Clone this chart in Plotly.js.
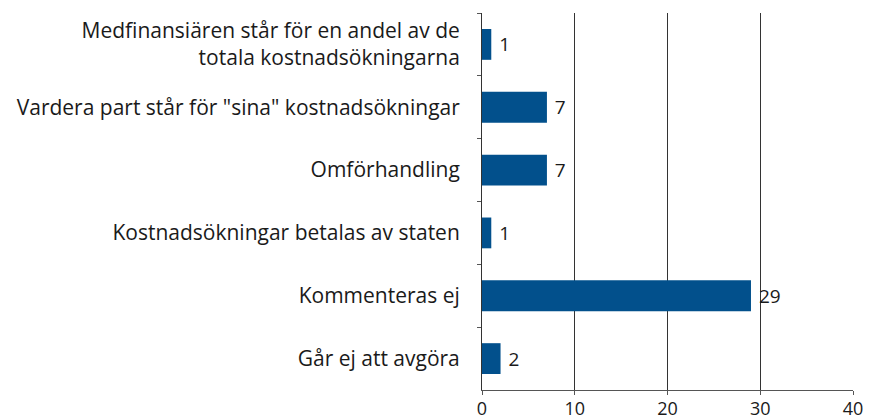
<!DOCTYPE html>
<html>
<head>
<meta charset="utf-8">
<script src="https://cdn.plot.ly/plotly-3.0.1.min.js"></script>
<style>html,body{margin:0;padding:0;background:#fff;}#chart{width:869px;height:420px;}</style>
</head>
<body>
<div id="chart"></div>
<script>
const categories = [
  "Medfinansiären står för en andel av de<br>totala kostnadsökningarna",
  "Vardera part står för \"sina\" kostnadsökningar",
  "Omförhandling",
  "Kostnadsökningar betalas av staten",
  "Kommenteras ej",
  "Går ej att avgöra"
];
const values = [1, 7, 7, 1, 29, 2];
const xTicks = [0, 10, 20, 30, 40];

const font = "'Open Sans', sans-serif";
Plotly.newPlot("chart", [{
  type: "bar",
  orientation: "h",
  y: categories,
  x: values,
  marker: {color: "#02508c"},
  text: values.map(v => String(v)),
  texttemplate: " %{text}",
  textposition: "outside",
  cliponaxis: false,
  textfont: {family: font, size: 19, color: "#1a1a1a"},
  hoverinfo: "none"
}], {
  width: 869, height: 420,
  margin: {l: 482, r: 16, t: 13, b: 30, pad: 0},
  paper_bgcolor: "#fff", plot_bgcolor: "#fff",
  bargap: 0.51,
  showlegend: false,
  font: {family: font, size: 21, color: "#1a1a1a"},
  xaxis: {
    range: [0, 40],
    tickvals: xTicks,
    ticktext: xTicks.map(String),
    showgrid: true, gridcolor: "#333", gridwidth: 1,
    zeroline: false,
    showline: true, linecolor: "#555", linewidth: 1,
    ticks: "outside", ticklen: 4, tickcolor: "#555",
    ticklabelstandoff: -2,
    tickfont: {family: font, size: 18, color: "#1a1a1a"},
    fixedrange: true
  },
  yaxis: {
    autorange: "reversed",
    type: "category",
    showgrid: false, zeroline: false,
    showline: true, linecolor: "#333", linewidth: 1,
    ticks: "outside", ticklen: 4, tickcolor: "#555",
    tickson: "boundaries",
    ticklabelstandoff: 17,
    tickfont: {family: font, size: 21, color: "#1a1a1a"},
    fixedrange: true
  }
}, {displayModeBar: false, staticPlot: true});
</script>
</body>
</html>
